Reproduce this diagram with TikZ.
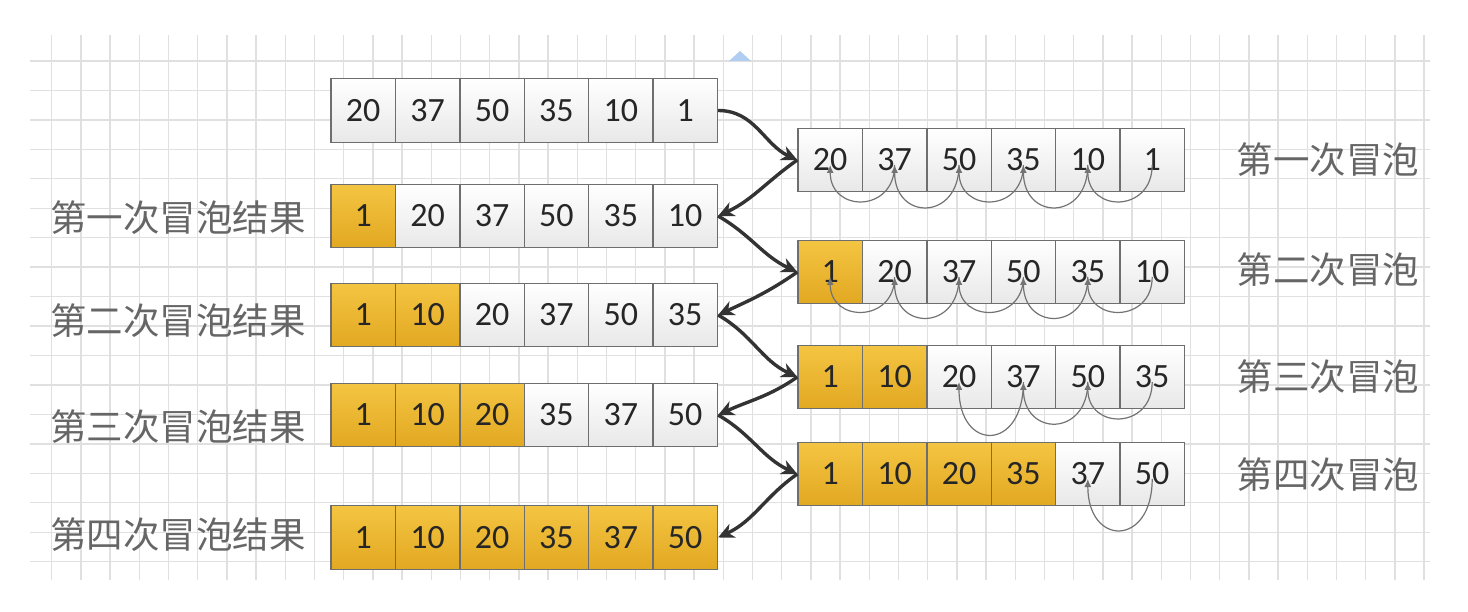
\documentclass[tikz,border=0pt]{standalone}
\usepackage{fontspec}
\setmainfont{Carlito}
\newfontfamily\cjk{Noto Sans CJK SC}
\usetikzlibrary{arrows.meta}
\definecolor{cellgray}{RGB}{110,110,110}
\definecolor{goldtop}{RGB}{244,197,66}
\definecolor{goldbot}{RGB}{226,168,34}
\definecolor{handleblue}{RGB}{176,206,242}
\tikzstyle{jump} = [draw=black!80, line width=3.4pt, -{Stealth[length=16pt,width=15pt,inset=5pt]}]
\tikzstyle{swap} = [draw=black!55, line width=1.2pt, -{Latex[length=8pt,width=7pt]}]

\begin{document}
\begin{tikzpicture}[x=1pt, y=-1pt,
   cell/.style={draw=cellgray, line width=1.4pt, minimum width=64.4pt, minimum height=63.5pt,
     inner sep=0pt, top color=white, bottom color=black!9, text=black!85,
     font=\fontsize{34}{34}\selectfont},
   done/.style={cell, top color=goldtop, bottom color=goldbot},
   tag/.style={font=\cjk\fontsize{36.5}{36.5}\selectfont, text=black!60},
   gridline/.style={draw=black!12, line width=1.3pt}]
\useasboundingbox (0,0) rectangle (1468,612);

% grid
\foreach \i in {0,...,47} \draw[gridline] (51.7+29.2*\i,35) -- (51.7+29.2*\i,580);
\foreach \j in {0,...,17} \draw[gridline] (30,61+29.45*\j) -- (1430,61+29.45*\j);
\fill[handleblue] (729,61) -- (740,51) -- (751,61) -- cycle;

% left column
\foreach \v/\s [count=\i] in {20/cell,37/cell,50/cell,35/cell,10/cell,1/cell}
  \node[\s] (l0-\i) at (298.8+64.4*\i,110.5) {\v};
\foreach \v/\s [count=\i] in {1/done,20/cell,37/cell,50/cell,35/cell,10/cell}
  \node[\s] (l1-\i) at (298.8+64.4*\i,216) {\v};
\foreach \v/\s [count=\i] in {1/done,10/done,20/cell,37/cell,50/cell,35/cell}
  \node[\s] (l2-\i) at (298.8+64.4*\i,315) {\v};
\foreach \v/\s [count=\i] in {1/done,10/done,20/done,35/cell,37/cell,50/cell}
  \node[\s] (l3-\i) at (298.8+64.4*\i,415) {\v};
\foreach \v/\s [count=\i] in {1/done,10/done,20/done,35/done,37/done,50/done}
  \node[\s] (l4-\i) at (298.8+64.4*\i,537.5) {\v};

% right column
\foreach \v/\s [count=\i] in {20/cell,37/cell,50/cell,35/cell,10/cell,1/cell}
  \node[\s] (p1-\i) at (765.8+64.4*\i,160) {\v};
\foreach \v/\s [count=\i] in {1/done,20/cell,37/cell,50/cell,35/cell,10/cell}
  \node[\s] (p2-\i) at (765.8+64.4*\i,272) {\v};
\foreach \v/\s [count=\i] in {1/done,10/done,20/cell,37/cell,50/cell,35/cell}
  \node[\s] (p3-\i) at (765.8+64.4*\i,377) {\v};
\foreach \v/\s [count=\i] in {1/done,10/done,20/done,35/done,37/cell,50/cell}
  \node[\s] (p4-\i) at (765.8+64.4*\i,474) {\v};

\node[tag] (t1) at (178,218) {第一次冒泡结果};
\node[tag] (t2) at (178,321) {第二次冒泡结果};
\node[tag] (t3) at (178,427) {第三次冒泡结果};
\node[tag] (t4) at (178,535) {第四次冒泡结果};
\node[tag] (b1) at (1328,160) {第一次冒泡};
\node[tag] (b2) at (1328,270) {第二次冒泡};
\node[tag] (b3) at (1328,377) {第三次冒泡};
\node[tag] (b4) at (1328,475) {第四次冒泡};

% swaps inside each pass
\foreach \a/\b/\h in {2/1/48,3/2/56,4/3/48,5/4/56,6/5/48}
  \draw[swap] ([yshift=-5pt]p1-\a.center) .. controls +(0,\h) and +(0,\h) .. ([yshift=-5pt]p1-\b.center);
\foreach \a/\b/\h in {2/1/46,3/2/54,4/3/46,5/4/54,6/5/46}
  \draw[swap] ([yshift=-5pt]p2-\a.center) .. controls +(0,\h) and +(0,\h) .. ([yshift=-5pt]p2-\b.center);
\foreach \a/\b/\h in {4/3/70,5/4/55,6/5/48}
  \draw[swap] ([yshift=-5pt]p3-\a.center) .. controls +(0,\h) and +(0,\h) .. ([yshift=-5pt]p3-\b.center);
\draw[swap] ([yshift=-5pt]p4-6.center) .. controls +(0,68) and +(0,68) .. ([yshift=-5pt]p4-5.center);

\draw[jump] (l0-6.east) to[out=0,in=155] (p1-1.west);
\draw[jump] (p1-1.west) to[out=215,in=25] (l1-6.east);
\draw[jump] (l1-6.east) to[out=-30,in=155] (p2-1.west);
\draw[jump] (p2-1.west) to[out=215,in=25] (l2-6.east);
\draw[jump] (l2-6.east) to[out=-30,in=155] (p3-1.west);
\draw[jump] (p3-1.west) to[out=215,in=25] (l3-6.east);
\draw[jump] (l3-6.east) to[out=-30,in=155] (p4-1.west);
\draw[jump] (p4-1.west) to[out=215,in=25] (l4-6.east);

\end{tikzpicture}
\end{document}
